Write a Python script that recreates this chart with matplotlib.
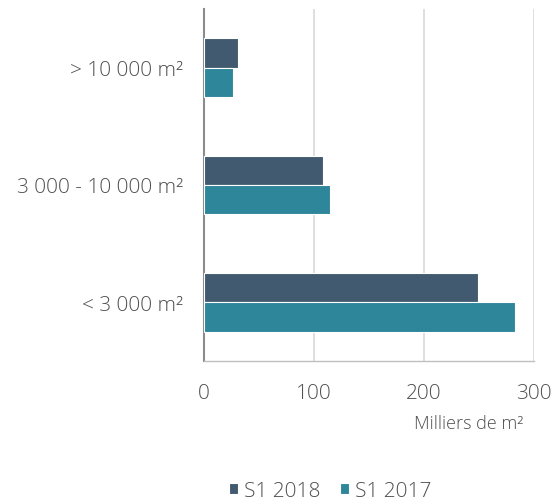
import numpy as np
import matplotlib.pyplot as plt

plt.rcParams['font.family'] = ['Open Sans', 'DejaVu Sans']
plt.rcParams['font.weight'] = 'light'

categories = ['< 3 000 m²', '3 000 - 10 000 m²', '> 10 000 m²']
s1_2018 = [249, 108, 31]
s1_2017 = [283, 115, 26]
series_names = ['S1 2018', 'S1 2017']
colors = ['#425a70', '#2e869b']
xticks = [0, 100, 200, 300]

fig = plt.figure(figsize=(5.56, 5.02), dpi=100)
ax = fig.add_axes([0.367, 0.279, 0.593, 0.701])

y = np.arange(len(categories))
h = 0.25
ax.barh(y + h / 2, s1_2018, height=h, color=colors[0], edgecolor='white',
        linewidth=0.8, label=series_names[0], zorder=3)
ax.barh(y - h / 2, s1_2017, height=h, color=colors[1], edgecolor='white',
        linewidth=0.8, label=series_names[1], zorder=3)

ax.set_xlim(0, 300)
ax.set_ylim(-0.5, 2.5)
ax.set_xticks(xticks)
ax.set_yticks(y)
ax.set_yticklabels(categories)
ax.tick_params(axis='both', length=0, labelsize=15, colors='#505050')
ax.tick_params(axis='x', pad=16)
ax.tick_params(axis='y', pad=15)
ax.xaxis.grid(True, color='#d9d9d9', linewidth=1.2, zorder=0)

for side in ['top', 'right']:
    ax.spines[side].set_visible(False)
ax.spines['left'].set_color('#8c8c8c')
ax.spines['left'].set_linewidth(1.5)
ax.spines['bottom'].set_color('#bfbfbf')
ax.spines['bottom'].set_linewidth(1.0)

fig.text(0.842, 0.155, 'Milliers de m²', ha='center', va='center',
         fontsize=13, color='#505050')

fig.legend(loc='center', bbox_to_anchor=(0.594, 0.02), ncol=2, frameon=False,
           fontsize=15, labelcolor='#505050', handlelength=0.45,
           handleheight=0.45, handletextpad=0.3, columnspacing=0.9)

fig.savefig('out.png', dpi=100)
